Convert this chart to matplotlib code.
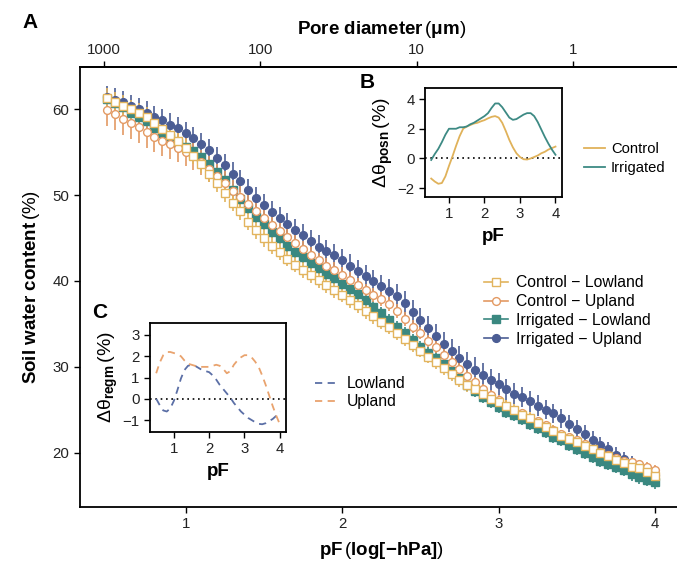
import numpy as np
import matplotlib
matplotlib.use("Agg")
import matplotlib.pyplot as plt
from matplotlib.lines import Line2D

plt.rcParams['font.family'] = ['Liberation Sans', 'DejaVu Sans']
plt.rcParams['mathtext.fontset'] = 'custom'
plt.rcParams['mathtext.rm'] = 'Liberation Sans'
plt.rcParams['mathtext.bf'] = 'Liberation Sans:bold'
plt.rcParams['mathtext.it'] = 'Liberation Sans:italic'

# ---------------- data ----------------
pF = [0.50, 0.55, 0.60, 0.65, 0.70, 0.75, 0.80, 0.85, 0.90, 0.95,
      1.00, 1.05, 1.10, 1.15, 1.20, 1.25, 1.30, 1.35, 1.40, 1.45,
      1.50, 1.55, 1.60, 1.65, 1.70, 1.75, 1.80, 1.85, 1.90, 1.95,
      2.00, 2.05, 2.10, 2.15, 2.20, 2.25, 2.30, 2.35, 2.40, 2.45,
      2.50, 2.55, 2.60, 2.65, 2.70, 2.75, 2.80, 2.85, 2.90, 2.95,
      3.00, 3.05, 3.10, 3.15, 3.20, 3.25, 3.30, 3.35, 3.40, 3.45,
      3.50, 3.55, 3.60, 3.65, 3.70, 3.75, 3.80, 3.85, 3.90, 3.95, 4.00]

control_lowland = [61.3, 60.8, 60.4, 60.0, 59.6, 59.1, 58.4, 57.7, 57.0, 56.3,
                   55.5, 54.6, 53.6, 52.5, 51.4, 50.2, 49.1, 48.1, 46.9, 45.9,
                   45.0, 44.1, 43.4, 42.6, 41.9, 41.3, 40.7, 40.1, 39.5, 38.95,
                   38.4, 37.8, 37.2, 36.5, 35.9, 35.25, 34.6, 33.9, 33.2, 32.5,
                   31.9, 31.2, 30.6, 29.9, 29.2, 28.5, 27.9, 27.4, 26.8, 26.3,
                   25.9, 25.4, 24.95, 24.4, 24.0, 23.5, 23.0, 22.5, 22.0, 21.65,
                   21.25, 20.8, 20.4, 20.0, 19.6, 19.2, 18.8, 18.4, 18.2, 17.8, 17.3]
control_upland = [59.9, 59.45, 58.9, 58.4, 57.9, 57.3, 56.8, 56.3, 55.9, 55.5,
                  55.0, 54.5, 53.8, 53.0, 52.2, 51.4, 50.5, 49.8, 49.0, 48.1,
                  47.3, 46.5, 45.8, 45.1, 44.4, 43.7, 43.0, 42.4, 41.8, 41.3,
                  40.7, 40.1, 39.5, 38.9, 38.4, 37.9, 37.3, 36.5, 35.6, 34.7,
                  33.9, 33.0, 32.3, 31.4, 30.6, 29.8, 29.0, 28.2, 27.4, 26.7,
                  26.1, 25.5, 25.0, 24.6, 24.1, 23.7, 23.2, 22.7, 22.2, 21.8,
                  21.5, 21.0, 20.5, 20.1, 19.7, 19.4, 19.1, 18.9, 18.7, 18.4, 18.05]
irrigated_lowland = [61.2, 60.7, 60.2, 59.6, 59.1, 58.6, 57.8, 57.2, 56.6, 56.1,
                     55.6, 55.1, 54.4, 53.6, 52.7, 51.7, 50.6, 49.5, 48.5, 47.5,
                     46.6, 45.7, 45.0, 44.1, 43.4, 42.75, 42.05, 41.5, 40.8, 40.3,
                     39.7, 39.1, 38.5, 37.8, 37.0, 36.3, 35.5, 34.7, 33.9, 33.1,
                     32.3, 31.6, 31.0, 30.3, 29.5, 28.7, 27.9, 27.2, 26.5, 25.9,
                     25.3, 24.8, 24.4, 23.9, 23.4, 22.9, 22.4, 21.9, 21.5, 20.9,
                     20.5, 20.0, 19.5, 19.1, 18.75, 18.3, 18.0, 17.5, 17.2, 16.9, 16.6]
irrigated_upland = [61.4, 61.1, 60.8, 60.4, 60.0, 59.6, 59.1, 58.7, 58.2, 57.8,
                    57.2, 56.6, 55.9, 55.2, 54.3, 53.45, 52.5, 51.6, 50.6, 49.6,
                    48.8, 48.0, 47.3, 46.6, 45.9, 45.3, 44.65, 44.0, 43.5, 43.0,
                    42.4, 41.8, 41.2, 40.6, 40.0, 39.4, 38.8, 38.2, 37.4, 36.4,
                    35.5, 34.5, 33.6, 32.7, 31.8, 31.0, 30.3, 29.7, 29.1, 28.5,
                    28.0, 27.4, 26.9, 26.5, 26.0, 25.5, 25.0, 24.6, 24.0, 23.4,
                    22.8, 22.2, 21.5, 20.95, 20.4, 19.8, 19.3, 18.8, 18.3, 17.9, 17.4]

err_control_lowland = [1.2, 1.2, 1.2, 1.1, 1.1, 1.1, 1.1, 1.0, 1.0, 1.0,
                       1.0, 1.0, 1.0, 1.0, 1.0, 1.0, 1.0, 1.0, 1.0, 1.0,
                       1.0, 1.0, 1.0, 0.9, 0.9, 0.9, 0.9, 0.9, 0.9, 0.9,
                       0.9, 0.9, 0.9, 0.9, 0.9, 0.8, 0.8, 0.8, 0.8, 0.8,
                       0.8, 0.8, 0.8, 0.8, 0.8, 0.8, 0.8, 0.8, 0.7, 0.7,
                       0.7, 0.7, 0.7, 0.7, 0.7, 0.7, 0.7, 0.7, 0.7, 0.7,
                       0.7, 0.7, 0.7, 0.7, 0.7, 0.7, 0.7, 0.7, 0.7, 0.7, 0.7]
err_control_upland = [1.9, 1.9, 1.9, 1.9, 1.9, 1.8, 1.8, 1.8, 1.7, 1.7,
                      1.6, 1.6, 1.5, 1.5, 1.4, 1.4, 1.3, 1.3, 1.2, 1.2,
                      1.1, 1.1, 1.0, 1.0, 1.0, 0.9, 0.9, 0.9, 0.9, 0.9,
                      0.9, 0.9, 0.9, 0.8, 0.8, 0.8, 0.8, 0.8, 0.8, 0.8,
                      0.7, 0.7, 0.7, 0.7, 0.7, 0.6, 0.6, 0.6, 0.6, 0.6,
                      0.6, 0.6, 0.5, 0.5, 0.5, 0.5, 0.5, 0.5, 0.5, 0.5,
                      0.5, 0.5, 0.5, 0.5, 0.5, 0.5, 0.5, 0.5, 0.5, 0.5, 0.5]
err_irrigated_lowland = [0.8, 0.8, 0.8, 0.8, 0.8, 0.8, 0.8, 0.8, 0.8, 0.8,
                         0.7, 0.7, 0.7, 0.7, 0.7, 0.7, 0.7, 0.7, 0.7, 0.7,
                         0.7, 0.7, 0.7, 0.7, 0.7, 0.7, 0.7, 0.7, 0.7, 0.7,
                         0.7, 0.7, 0.7, 0.7, 0.7, 0.7, 0.7, 0.7, 0.7, 0.7,
                         0.7, 0.7, 0.7, 0.7, 0.7, 0.7, 0.7, 0.7, 0.7, 0.7,
                         0.7, 0.7, 0.7, 0.7, 0.7, 0.7, 0.7, 0.7, 0.7, 0.7,
                         0.7, 0.7, 0.7, 0.7, 0.7, 0.7, 0.7, 0.8, 0.8, 0.8, 0.8]
err_irrigated_upland = [1.3, 1.3, 1.3, 1.3, 1.3, 1.3, 1.3, 1.3, 1.3, 1.3,
                        1.3, 1.3, 1.3, 1.3, 1.3, 1.3, 1.3, 1.3, 1.3, 1.3,
                        1.3, 1.3, 1.3, 1.3, 1.3, 1.3, 1.3, 1.3, 1.3, 1.3,
                        1.3, 1.3, 1.3, 1.3, 1.3, 1.3, 1.4, 1.4, 1.4, 1.4,
                        1.4, 1.4, 1.4, 1.4, 1.4, 1.4, 1.4, 1.4, 1.3, 1.3,
                        1.3, 1.2, 1.2, 1.2, 1.2, 1.2, 1.1, 1.1, 1.1, 1.0,
                        1.0, 1.0, 1.0, 0.9, 0.9, 0.9, 0.8, 0.8, 0.8, 0.8, 0.8]

pF_inset = [0.5, 0.6, 0.7, 0.8, 0.9, 1.0, 1.1, 1.2, 1.3, 1.4, 1.5, 1.6,
            1.7, 1.8, 1.9, 2.0, 2.1, 2.2, 2.3, 2.4, 2.5, 2.6, 2.7, 2.8,
            2.9, 3.0, 3.1, 3.2, 3.3, 3.4, 3.5, 3.6, 3.7, 3.8, 3.9, 4.0]
posn_control = [-1.35, -1.55, -1.7, -1.65, -1.2, -0.5, 0.15, 0.85, 1.5, 2.0, 2.15, 2.25,
                2.35, 2.4, 2.5, 2.58, 2.7, 2.8, 2.85, 2.75, 2.4, 1.85, 1.25, 0.75,
                0.35, 0.1, -0.05, -0.07, 0.0, 0.1, 0.2, 0.35, 0.45, 0.6, 0.7, 0.8]
posn_irrigated = [-0.1, 0.3, 0.65, 1.1, 1.6, 2.0, 2.0, 2.0, 2.1, 2.1, 2.15, 2.3,
                  2.4, 2.55, 2.7, 2.85, 3.05, 3.4, 3.7, 3.7, 3.45, 3.1, 2.75, 2.6,
                  2.65, 2.8, 2.95, 3.05, 3.05, 2.85, 2.45, 1.95, 1.45, 1.0, 0.6, 0.25]
regm_lowland = [0.0, -0.3, -0.55, -0.6, -0.45, -0.1, 0.4, 0.95, 1.35, 1.55, 1.6, 1.55,
                1.45, 1.35, 1.3, 1.25, 1.1, 0.9, 0.65, 0.45, 0.25, 0.05, -0.2, -0.4,
                -0.6, -0.75, -0.9, -1.0, -1.1, -1.18, -1.2, -1.15, -1.05, -0.95, -0.8, -0.6]
regm_upland = [1.2, 1.7, 2.05, 2.2, 2.2, 2.15, 2.1, 2.0, 1.8, 1.65, 1.6, 1.55,
               1.5, 1.5, 1.5, 1.5, 1.55, 1.6, 1.55, 1.4, 1.2, 1.3, 1.6, 1.8,
               1.95, 2.05, 2.05, 1.95, 1.75, 1.5, 1.1, 0.65, 0.15, -0.35, -0.8, -1.2]

diam_ticks = [1000, 100, 10, 1]
diam_const = 3000.0  # d (um) = 3000 / h (hPa)

# ---------------- style ----------------
c_cl = '#E2B45E'
c_cu = '#E39A63'
c_il = '#3A8880'
c_iu = '#4B5D94'
c_b_control = '#E0B25A'
c_b_irr = '#3D8A84'
c_c_low = '#5B6FA6'
c_c_up = '#E9A36E'
tick_col = '#222222'
TICK_FS = 10.8
LAB_FS = 13.5
LEG_FS = 11.3

W, H = 677, 561
fig = plt.figure(figsize=(W / 100, H / 100), dpi=100)

def fax(l, t, r, b):
    return fig.add_axes([l / W, 1 - b / H, (r - l) / W, (b - t) / H])

ax = fax(80, 67, 682.5, 507)
ax.set_xlim(0.325, 4.175)
ax.set_ylim(13.7, 64.9)

MS = 5.6
series = [
    ('Irrigated \u2212 Lowland', irrigated_lowland, err_irrigated_lowland, 's', c_il, c_il, MS - 0.4),
    ('Irrigated \u2212 Upland', irrigated_upland, err_irrigated_upland, 'o', c_iu, c_iu, MS),
    ('Control \u2212 Upland', control_upland, err_control_upland, 'o', c_cu, 'white', MS),
    ('Control \u2212 Lowland', control_lowland, err_control_lowland, 's', c_cl, 'white', MS - 0.4),
]
for name, y, e, m, col, fc, ms in series:
    ax.errorbar(pF, y, yerr=e, fmt=m, color=col, mfc=fc, mec=col, mew=1.0,
                ms=ms, elinewidth=1.2, capsize=0, zorder=3)

ax.spines['right'].set_visible(False)
for s in ['left', 'bottom', 'top']:
    ax.spines[s].set_linewidth(1.3)
ax.set_xticks([1, 2, 3, 4])
ax.set_yticks([20, 30, 40, 50, 60])
ax.tick_params(direction='out', length=4, width=1, labelsize=TICK_FS, labelcolor=tick_col)
ax.set_xlabel('pF$\\,\\left(\\mathbf{log[-hPa]}\\right)$', fontsize=LAB_FS, fontweight='bold', labelpad=6)
ax.set_ylabel('Soil water content$\\,(\\%)$', fontsize=LAB_FS, fontweight='bold', labelpad=8)

lc = np.log10(diam_const)
sec = ax.secondary_xaxis('top', functions=(lambda p: lc - p, lambda l: lc - l))
sec.set_xticks([np.log10(d) for d in diam_ticks])
sec.set_xticklabels([str(d) for d in diam_ticks])
sec.tick_params(direction='out', length=4, width=1, labelsize=TICK_FS, labelcolor=tick_col)
sec.spines['top'].set_linewidth(1.3)
sec.set_xlabel('Pore diameter$\\,(\\mathbf{\\mu m})$', fontsize=LAB_FS, fontweight='bold', labelpad=6)

handles = []
for name in ['Control \u2212 Lowland', 'Control \u2212 Upland', 'Irrigated \u2212 Lowland', 'Irrigated \u2212 Upland']:
    for n, y, e, m, col, fc, ms in series:
        if n == name:
            handles.append(Line2D([], [], color=col, marker=m, mfc=fc, mec=col, mew=1.0, ms=ms, lw=1.2, label=n))
fig.legend(handles=handles, loc='upper left', bbox_to_anchor=(470 / W, 1 - 261 / H),
           frameon=False, fontsize=LEG_FS, handlelength=1.5, handletextpad=0.5, labelspacing=0.25)

fig.text(22 / W, 1 - 22 / H, 'A', fontsize=15, fontweight='bold', va='center')

# ---------------- inset B ----------------
axb = fax(425, 88.3, 561.7, 196.7)
axb.set_xlim(0.325, 4.175)
axb.set_ylim(-2.57, 4.72)
axb.axhline(0, color='black', ls=(0, (1, 2.2)), lw=1.2, zorder=1)
axb.plot(pF_inset, posn_control, color=c_b_control, lw=1.3, label='Control')
axb.plot(pF_inset, posn_irrigated, color=c_b_irr, lw=1.3, label='Irrigated')
axb.set_xticks([1, 2, 3, 4])
axb.set_yticks([-2, 0, 2, 4])
axb.set_yticklabels(['\u22122', '0', '2', '4'])
axb.tick_params(direction='out', length=4, width=1, labelsize=TICK_FS, labelcolor=tick_col)
for s in axb.spines.values():
    s.set_linewidth(1.3)
axb.set_xlabel('pF', fontsize=LAB_FS, fontweight='bold', labelpad=5)
axb.set_ylabel('$\\mathrm{\\Delta\\theta}_{\\mathbf{posn}}\\,(\\%)$', fontsize=14, labelpad=2)
axb.legend(loc='upper left', bbox_to_anchor=(571 / W, 1 - 129 / H), bbox_transform=fig.transFigure,
           frameon=False, fontsize=10.6, handlelength=1.4, handletextpad=0.4, labelspacing=0.3)
fig.text(360 / W, 1 - 83 / H, 'B', fontsize=15, fontweight='bold', va='center')

# ---------------- inset C ----------------
axc = fax(150, 323.3, 286, 431.7)
axc.set_xlim(0.325, 4.175)
axc.set_ylim(-1.55, 3.55)
axc.axhline(0, color='black', ls=(0, (1, 2.2)), lw=1.2, zorder=1)
axc.plot(pF_inset, regm_lowland, color=c_c_low, lw=1.3, ls=(0, (4, 3)), label='Lowland')
axc.plot(pF_inset, regm_upland, color=c_c_up, lw=1.3, ls=(0, (4, 3)), label='Upland')
axc.set_xticks([1, 2, 3, 4])
axc.set_yticks([-1, 0, 1, 2, 3])
axc.set_yticklabels(['\u22121', '0', '1', '2', '3'])
axc.tick_params(direction='out', length=4, width=1, labelsize=TICK_FS, labelcolor=tick_col)
for s in axc.spines.values():
    s.set_linewidth(1.3)
axc.set_xlabel('pF', fontsize=LAB_FS, fontweight='bold', labelpad=5)
axc.set_ylabel('$\\mathrm{\\Delta\\theta}_{\\mathbf{regm}}\\,(\\%)$', fontsize=14, labelpad=2)
axc.legend(loc='upper left', bbox_to_anchor=(301 / W, 1 - 362 / H), bbox_transform=fig.transFigure,
           frameon=False, fontsize=LEG_FS, handlelength=1.5, handletextpad=0.5, labelspacing=0.2)
fig.text(92 / W, 1 - 313 / H, 'C', fontsize=15, fontweight='bold', va='center')

fig.savefig('out.png', dpi=100)
